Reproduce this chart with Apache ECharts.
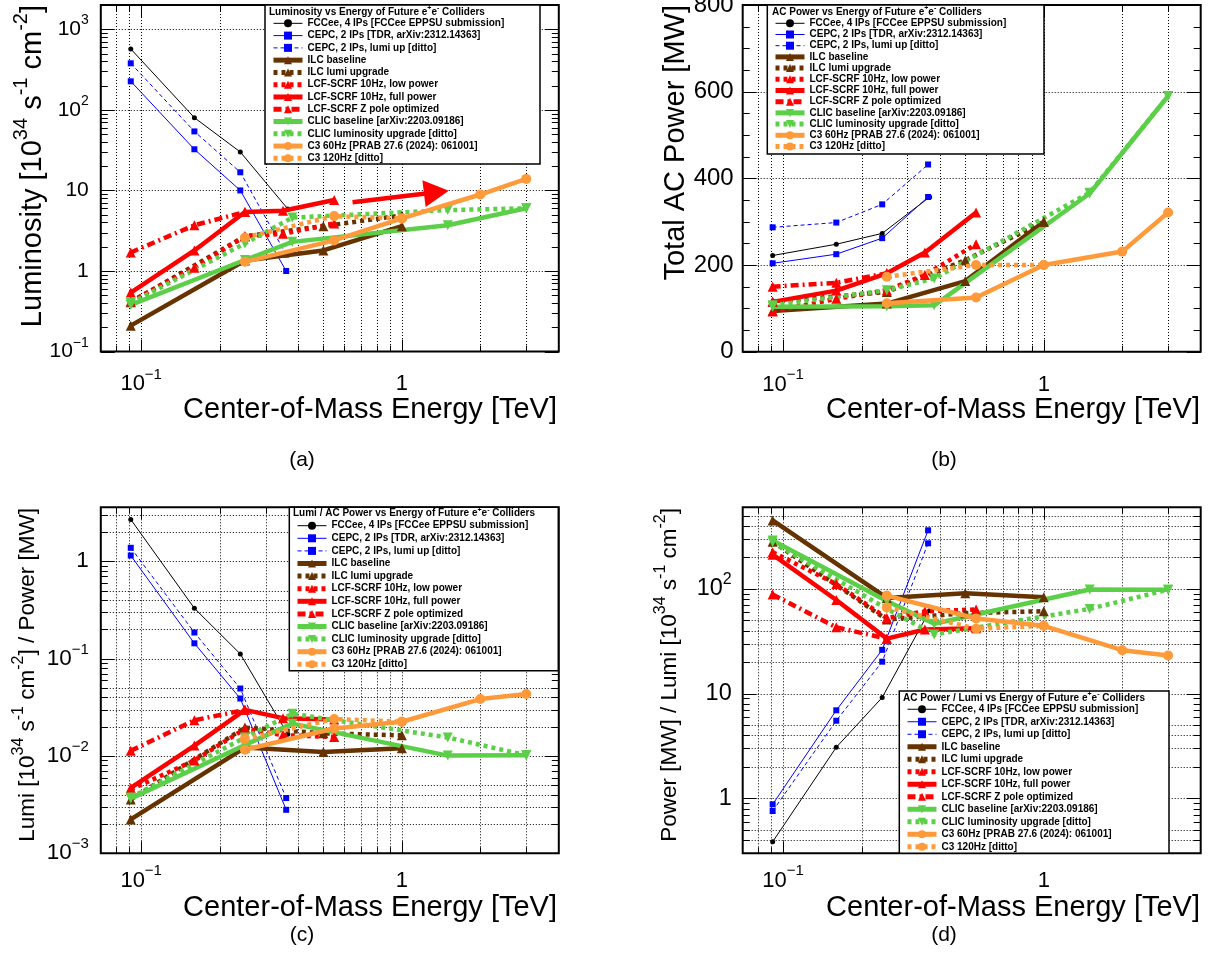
<!DOCTYPE html>
<html><head><meta charset="utf-8">
<script src="https://cdn.jsdelivr.net/npm/echarts@6/dist/echarts.min.js"></script>
<style>html,body{margin:0;padding:0;background:#fff}#c{width:1214px;height:979px}</style>
</head><body><div id="c"></div>
<script>
// ---------------- data ----------------
const NAMES = [
  'FCCee, 4 IPs [FCCee EPPSU submission]',
  'CEPC, 2 IPs [TDR, arXiv:2312.14363]',
  'CEPC, 2 IPs, lumi up [ditto]',
  'ILC baseline',
  'ILC lumi upgrade',
  'LCF-SCRF 10Hz, low power',
  'LCF-SCRF 10Hz, full power',
  'LCF-SCRF Z pole optimized',
  'CLIC baseline [arXiv:2203.09186]',
  'CLIC luminosity upgrade [ditto]',
  'C3 60Hz [PRAB 27.6 (2024): 061001]',
  'C3 120Hz [ditto]'
];

// centre-of-mass energies [TeV]
const E_FCC  = [0.0912, 0.16, 0.24, 0.365];
const E_CEPC = [0.0912, 0.16, 0.24, 0.36];
const E_ILC  = [0.0912, 0.25, 0.5, 1.0];
const E_LCF  = [0.0912, 0.16, 0.25, 0.35, 0.55];
const E_LCFZ = [0.0912, 0.16, 0.25];
const E_CLIC = [0.0912, 0.25, 0.38, 1.5, 3.0];
const E_C3   = [0.25, 0.55, 1.0, 2.0, 3.0];
const E_C3H  = [0.25, 0.55, 1.0];

// (a) luminosity [1e34 /s/cm2]
const LUMI_FCC      = [570, 80, 30, 5.9];
const LUMI_CEPC     = [226, 32.4, 10, 1.0];
const LUMI_CEPC_UP  = [378, 54, 16.8, 1.6];
const LUMI_ILC      = [0.21, 1.35, 1.8, 3.6];
const LUMI_ILC_UP   = [0.41, 2.7, 3.6, 4.9];
const LUMI_LCF_LOW  = [0.42, 1.1, 2.7, 2.9, 3.9];
const LUMI_LCF_FULL = [0.54, 1.8, 5.4, 5.6, 7.6];
const LUMI_LCF_Z    = [1.7, 3.7, 5.4];
const LUMI_CLIC     = [0.38, 1.37, 2.3, 3.7, 6.0];
const LUMI_CLIC_UP  = [0.40, 2.2, 4.6, 5.7, 6.0];
const LUMI_C3       = [1.3, 2.4, 4.5, 8.9, 13.9];
const LUMI_C3_120   = [2.6, 4.8, 4.5];

// (b) total AC power [MW]
const POW_FCC      = [222, 248, 273, 357];
const POW_CEPC     = [204, 225, 262, 357];
const POW_CEPC_UP  = [287, 298, 340, 432];
const POW_ILC      = [94, 111, 163, 300];
const POW_ILC_UP   = [115, 138, 211, 300];
const POW_LCF_LOW  = [93, 122, 142, 177, 248];
const POW_LCF_FULL = [115, 141, 181, 229, 321];
const POW_LCF_Z    = [150, 159, 181];
const POW_CLIC     = [104, 105, 107, 365, 590];
const POW_CLIC_UP  = [107, 142, 169, 367, 590];
const POW_C3       = [112, 125, 200, 231, 321];
const POW_C3_120   = [173, 200, 200];

// (c) lumi / power
const LPR_FCC      = [2.7, 0.33, 0.112, 0.0167];
const LPR_CEPC     = [1.15, 0.144, 0.039, 0.0028];
const LPR_CEPC_UP  = [1.38, 0.186, 0.0494, 0.0037];
const LPR_ILC      = [0.00223, 0.0122, 0.0110, 0.0120];
const LPR_ILC_UP   = [0.00357, 0.0196, 0.0171, 0.0163];
const LPR_LCF_LOW  = [0.00452, 0.0090, 0.0190, 0.0164, 0.0157];
const LPR_LCF_FULL = [0.0047, 0.0128, 0.0298, 0.0245, 0.0237];
const LPR_LCF_Z    = [0.0113, 0.0233, 0.0298];
const LPR_CLIC     = [0.00365, 0.0130, 0.0215, 0.0101, 0.0102];
const LPR_CLIC_UP  = [0.00374, 0.0155, 0.0272, 0.0155, 0.0102];
const LPR_C3       = [0.0116, 0.0192, 0.0225, 0.0385, 0.0433];
const LPR_C3_120   = [0.0150, 0.0240, 0.0225];

// (d) power / lumi
const PLR_FCC      = [0.386, 3.08, 9.2, 62];
const PLR_CEPC     = [0.88, 6.94, 26.2, 362];
const PLR_CEPC_UP  = [0.76, 5.52, 20.2, 272];
const PLR_ILC      = [450, 82, 90.6, 83.3];
const PLR_ILC_UP   = [282, 51, 58.6, 61.2];
const PLR_LCF_LOW  = [224, 111, 52.6, 61, 63.6];
const PLR_LCF_FULL = [212, 78.3, 33.5, 40.9, 42.2];
const PLR_LCF_Z    = [88.2, 43, 33.5];
const PLR_CLIC     = [290, 76.6, 46.5, 98.6, 98.3];
const PLR_CLIC_UP  = [278, 64.5, 36.7, 64.4, 98.3];
const PLR_C3       = [86.2, 52.1, 44.4, 26, 23.1];
const PLR_C3_120   = [66.5, 41.7, 44.4];

// arrow annotation in (a): [energy, lumi] start / head
const ARROW_A = [[0.647, 7.12], [1.357, 9.5]];

// axes / ticks
const X_RANGE = [0.07, 4];
const Y_RANGES = [[0.1, 2000], [0, 800], [0.001, 3.6], [0.3, 600]];
const X_MAJOR = [0.1, 1];
const X_MINOR = [0.08, 0.09, 0.2, 0.3, 0.4, 0.5, 0.6, 0.7, 0.8, 0.9, 2, 3];
const Y_MAJOR = [[0.1, 1, 10, 100, 1000], [0, 200, 400, 600, 800], [0.001, 0.01, 0.1, 1], [1, 10, 100]];
const X_LABELS = [[0.1, '10', '\u22121'], [1, '1']];
const Y_LABELS = [
  [[0.1, '10', '\u22121'], [1, '1'], [10, '10'], [100, '10', '2'], [1000, '10', '3']],
  [[0, '0'], [200, '200'], [400, '400'], [600, '600'], [800, '800']],
  [[0.001, '10', '\u22123'], [0.01, '10', '\u22122'], [0.1, '10', '\u22121'], [1, '1']],
  [[1, '1'], [10, '10'], [100, '10', '2']]
];

// ---------------- layout & style ----------------
const FONT = "'Liberation Sans', Arial, Helvetica, sans-serif";
const GRIDS = [
  {left: 100.8, top: 5, width: 458, height: 346.6},
  {left: 742.7, top: 5, width: 458, height: 346.7},
  {left: 100.8, top: 507.3, width: 458, height: 346},
  {left: 742.7, top: 507.3, width: 458, height: 346}
];
const YLAB_SIZE = [21, 24, 22.5, 23.5];
const YLAB_GAP = [12, 9, 12, 11];
const XLAB_SIZE = 22;
const XLAB_OFF = [32.5, 32.5, 27, 27];

const BROWN = '#663300', RED = '#ff0000', GREEN = '#5ccf49', ORANGE = '#ff9a3a', BLUE = '#0000ff';
const DOT = [4, 4], DASHDOT = [8, 4, 2, 4], DASH = [4, 3];
const STYLES = [
  {c: '#000', w: 1, t: 'solid', s: 'circle', z: 5, sz: 5},
  {c: BLUE, w: 1, t: 'solid', s: 'rect', z: 6, sz: 6},
  {c: BLUE, w: 1, t: DASH, s: 'rect', z: 6, sz: 6},
  {c: BROWN, w: 4.5, t: 'solid', s: 'triangle', z: 9, sz: 10},
  {c: BROWN, w: 4.5, t: DOT, s: 'triangle', z: 9, sz: 10},
  {c: RED, w: 4.5, t: DOT, s: 'triangle', z: 9, sz: 10},
  {c: RED, w: 4.5, t: 'solid', s: 'triangle', z: 9, sz: 10},
  {c: RED, w: 4.5, t: DASHDOT, s: 'triangle', z: 9, sz: 10},
  {c: GREEN, w: 4.5, t: 'solid', s: 'triangle', z: 9, sz: 10, r: 180},
  {c: GREEN, w: 4.5, t: DOT, s: 'triangle', z: 9, sz: 10, r: 180},
  {c: ORANGE, w: 4.5, t: 'solid', s: 'circle', z: 10, sz: 10},
  {c: ORANGE, w: 4.5, t: DOT, s: 'circle', z: 10, sz: 10}
];

const SERIES_E = [E_FCC, E_CEPC, E_CEPC, E_ILC, E_ILC, E_LCF, E_LCF, E_LCFZ, E_CLIC, E_CLIC, E_C3, E_C3H];
const PANEL_VALUES = [
  [LUMI_FCC, LUMI_CEPC, LUMI_CEPC_UP, LUMI_ILC, LUMI_ILC_UP, LUMI_LCF_LOW, LUMI_LCF_FULL, LUMI_LCF_Z, LUMI_CLIC, LUMI_CLIC_UP, LUMI_C3, LUMI_C3_120],
  [POW_FCC, POW_CEPC, POW_CEPC_UP, POW_ILC, POW_ILC_UP, POW_LCF_LOW, POW_LCF_FULL, POW_LCF_Z, POW_CLIC, POW_CLIC_UP, POW_C3, POW_C3_120],
  [LPR_FCC, LPR_CEPC, LPR_CEPC_UP, LPR_ILC, LPR_ILC_UP, LPR_LCF_LOW, LPR_LCF_FULL, LPR_LCF_Z, LPR_CLIC, LPR_CLIC_UP, LPR_C3, LPR_C3_120],
  [PLR_FCC, PLR_CEPC, PLR_CEPC_UP, PLR_ILC, PLR_ILC_UP, PLR_LCF_LOW, PLR_LCF_FULL, PLR_LCF_Z, PLR_CLIC, PLR_CLIC_UP, PLR_C3, PLR_C3_120]
];

const LEGENDS = [
  {box: [265, 5, 275, 159], left: 271, top: 17.2, row: 12.27, title: [269, 11], head: 'Luminosity vs Energy of Future e'},
  {box: [767.3, 5, 276.7, 149], left: 773, top: 17.7, row: 11.2, title: [772, 11], head: 'AC Power vs Energy of Future e'},
  {box: [289.3, 507.3, 269, 163.4], left: 295, top: 519.4, row: 12.6, title: [293, 512.5], head: 'Lumi / AC Power vs Energy of Future e'},
  {box: [899.3, 691, 269.7, 162.3], left: 905, top: 703, row: 12.5, title: [903, 697], head: 'AC Power / Lumi vs Energy of Future e'}
];

function richFor(F) {
  return {
    b: {fontSize: F, lineHeight: Math.round(F * 1.25), verticalAlign: 'bottom', fontFamily: FONT, fill: '#000'},
    s: {fontSize: Math.round(F * 0.68), verticalAlign: 'top', fontFamily: FONT, fill: '#000'}
  };
}
function labText(l) { return '{b|' + l[1] + '}' + (l[2] ? '{s|' + l[2] + '}' : ''); }

// ---------------- build ----------------
const grid = [], xAxis = [], yAxis = [], series = [], legend = [], graphic = [];

GRIDS.forEach((g, p) => {
  grid.push(Object.assign({show: true, borderColor: '#000', borderWidth: 2, backgroundColor: 'transparent'}, g));
  const hidden = {axisLine: {show: false}, axisTick: {show: false}, axisLabel: {show: false}, splitLine: {show: false}};
  xAxis.push(Object.assign({type: 'log', logBase: 10, gridIndex: p, min: X_RANGE[0], max: X_RANGE[1]}, hidden));
  yAxis.push(Object.assign({type: p === 1 ? 'value' : 'log', logBase: 10, gridIndex: p, min: Y_RANGES[p][0], max: Y_RANGES[p][1]}, hidden));

  // tick marks & grid lines
  const ticks = [];
  X_MAJOR.forEach(v => ticks.push([v, Y_RANGES[p][0], 0, 12, 1]));
  X_MINOR.forEach(v => ticks.push([v, Y_RANGES[p][0], 0, 6, 1]));
  const [ymin, ymax] = Y_RANGES[p];
  Y_MAJOR[p].forEach(v => ticks.push([X_RANGE[0], v, 1, 14, (v > ymin && v < ymax) ? 1 : 0]));
  if (p === 1) {
    for (let v = 50; v < 800; v += 50) if (v % 200) ticks.push([X_RANGE[0], v, 1, 7, 0]);
  } else {
    for (let e = Math.floor(Math.log10(ymin)); e <= Math.ceil(Math.log10(ymax)); e++) {
      const d = Math.pow(10, e);
      for (let m = 2; m <= 9; m++) {
        const v = +(d * m).toPrecision(6);
        if (v > ymin && v < ymax) ticks.push([X_RANGE[0], v, 1, 7, (p >= 2 && m <= 5) ? 1 : 0]);
      }
    }
  }
  series.push({
    type: 'custom', xAxisIndex: p, yAxisIndex: p, silent: true, z: 1, animation: false,
    data: ticks, encode: {x: 0, y: 1},
    renderItem(params, api) {
      const cs = params.coordSys;
      const L = cs.x, R = cs.x + cs.width, T = cs.y, B = cs.y + cs.height;
      const kind = api.value(2), len = api.value(3), gr = api.value(4);
      const pt = api.coord([api.value(0), api.value(1)]);
      const solid = {stroke: '#000', lineWidth: 1};
      const dotted = {stroke: '#000', lineWidth: 1, lineDash: [1, 2]};
      const ch = [];
      if (kind === 0) {
        const x = Math.round(pt[0]) + 0.5;
        if (gr) ch.push({type: 'line', shape: {x1: x, y1: T, x2: x, y2: B}, style: dotted});
        ch.push({type: 'line', shape: {x1: x, y1: B, x2: x, y2: B - len}, style: solid});
        ch.push({type: 'line', shape: {x1: x, y1: T, x2: x, y2: T + len}, style: solid});
      } else {
        const y = Math.round(pt[1]) + 0.5;
        if (gr) ch.push({type: 'line', shape: {x1: L, y1: y, x2: R, y2: y}, style: dotted});
        ch.push({type: 'line', shape: {x1: L, y1: y, x2: L + len, y2: y}, style: solid});
        ch.push({type: 'line', shape: {x1: R, y1: y, x2: R - len, y2: y}, style: solid});
      }
      return {type: 'group', children: ch};
    }
  });

  // tick labels
  const labs = [], texts = [];
  X_LABELS.forEach(l => { labs.push([l[0], Y_RANGES[p][0], 0]); texts.push(labText(l)); });
  Y_LABELS[p].forEach(l => { labs.push([X_RANGE[0], l[0], 1]); texts.push(labText(l)); });
  series.push({
    type: 'custom', xAxisIndex: p, yAxisIndex: p, silent: true, z: 12, animation: false, clip: false,
    data: labs, encode: {x: 0, y: 1},
    renderItem(params, api) {
      const cs = params.coordSys;
      const kind = api.value(2);
      const pt = api.coord([api.value(0), api.value(1)]);
      const F = kind === 0 ? XLAB_SIZE : YLAB_SIZE[p];
      const txt = texts[params.dataIndex];
      if (kind === 0) {
        return {type: 'text', x: pt[0], y: cs.y + cs.height + XLAB_OFF[p] - 0.125 * F,
          style: {text: txt, rich: richFor(F), align: 'center', verticalAlign: 'middle', fill: '#000'}};
      }
      return {type: 'text', x: cs.x - YLAB_GAP[p], y: pt[1] - 0.125 * F,
        style: {text: txt, rich: richFor(F), align: 'right', verticalAlign: 'middle', fill: '#000'}};
    }
  });

  // data series
  NAMES.forEach((name, s) => {
    const st = STYLES[s];
    const vals = PANEL_VALUES[p][s];
    const ser = {
      type: 'line', name, xAxisIndex: p, yAxisIndex: p, z: st.z, animation: false, silent: true,
      data: SERIES_E[s].map((e, i) => [e, vals[i]]),
      symbol: st.s, symbolSize: st.sz, symbolRotate: st.r || 0, showSymbol: true,
      lineStyle: {color: st.c, width: st.w, type: st.t, cap: 'butt'},
      itemStyle: {color: st.c, borderWidth: 0},
      emphasis: {disabled: true}
    };
    if (p === 0 && s === 6) {
      ser.markLine = {
        silent: true, animation: false, symbol: ['none', 'triangle'], symbolSize: [27, 25],
        label: {show: false}, lineStyle: {color: RED, width: 4.5, type: 'solid'},
        emphasis: {disabled: true},
        data: [[{coord: ARROW_A[0]}, {coord: ARROW_A[1]}]]
      };
    }
    series.push(ser);
  });

  // legend
  const Lg = LEGENDS[p];
  legend.push({
    data: NAMES.map((n, s) => ({
      name: n,
      itemStyle: {color: STYLES[s].c, borderWidth: 0},
      lineStyle: {color: STYLES[s].c, width: STYLES[s].w > 2 ? 5 : 1, type: STYLES[s].t, cap: 'butt'}
    })),
    orient: 'vertical', left: Lg.left, top: Lg.top, padding: 0, itemGap: 0,
    itemWidth: 29, itemHeight: 10, selectedMode: false, z: 8,
    textStyle: {fontFamily: FONT, fontWeight: 'bold', fontSize: 10, color: '#000', lineHeight: Lg.row}
  });
  graphic.push({type: 'rect', z: 7, shape: {x: Lg.box[0], y: Lg.box[1], width: Lg.box[2], height: Lg.box[3]},
    style: {fill: '#fff', stroke: '#000', lineWidth: 1.5}});
  graphic.push({type: 'text', z: 9, x: Lg.title[0], y: Lg.title[1],
    style: {text: '{h|' + Lg.head + '}{hs|+}{h|e}{hs|-}{h| Colliders}',
      rich: {
        h: {fontFamily: FONT, fontWeight: 'bold', fontSize: 10, lineHeight: 12, verticalAlign: 'bottom', fill: '#000'},
        hs: {fontFamily: FONT, fontWeight: 'bold', fontSize: 7, verticalAlign: 'top', fill: '#000'}
      },
      align: 'left', verticalAlign: 'middle', fill: '#000'}});
});

// axis titles
const TF = 29, TFS = 22.5;
function titleRich(F) {
  return {
    b: {fontFamily: FONT, fontSize: F, lineHeight: Math.round(F * 1.25), verticalAlign: 'bottom', fill: '#000'},
    s: {fontFamily: FONT, fontSize: Math.round(F * 0.7), verticalAlign: 'top', fill: '#000'}
  };
}
[[557, 406], [1200, 406], [557, 904], [1200, 904]].forEach(([x, y]) => {
  graphic.push({type: 'text', z: 9, x, y, style: {text: '{b|Center-of-Mass Energy [TeV]}', rich: titleRich(TF), align: 'right', verticalAlign: 'middle', fill: '#000'}});
});
const YT = [
  {x: 29, y: 5, F: TF, t: '{b|Luminosity [10}{s|34}{b| s}{s|-1}{b| cm}{s|-2}{b|]}'},
  {x: 672, y: 5, F: TF, t: '{b|Total AC Power [MW]}'},
  {x: 25, y: 508, F: TFS, t: '{b|Lumi [10}{s|34}{b| s}{s|-1}{b| cm}{s|-2}{b|] / Power [MW]}'},
  {x: 667, y: 508, F: TFS, t: '{b|Power [MW] / Lumi [10}{s|34}{b| s}{s|-1}{b| cm}{s|-2}{b|]}'}
];
YT.forEach(o => {
  graphic.push({type: 'text', z: 9, x: o.x, y: o.y, rotation: Math.PI / 2,
    style: {text: o.t, rich: titleRich(o.F), align: 'right', verticalAlign: 'middle', fill: '#000'}});
});
[['(a)', 302, 460], ['(b)', 944, 460], ['(c)', 302, 935], ['(d)', 944, 935]].forEach(([t, x, y]) => {
  graphic.push({type: 'text', z: 9, x, y, style: {text: t, fontFamily: FONT, fontSize: 21, align: 'center', verticalAlign: 'middle', fill: '#000'}});
});

const chart = echarts.init(document.getElementById('c'), null, {renderer: 'canvas'});
chart.setOption({animation: false, backgroundColor: '#fff', grid, xAxis, yAxis, series, legend, graphic});
</script>
</body></html>
